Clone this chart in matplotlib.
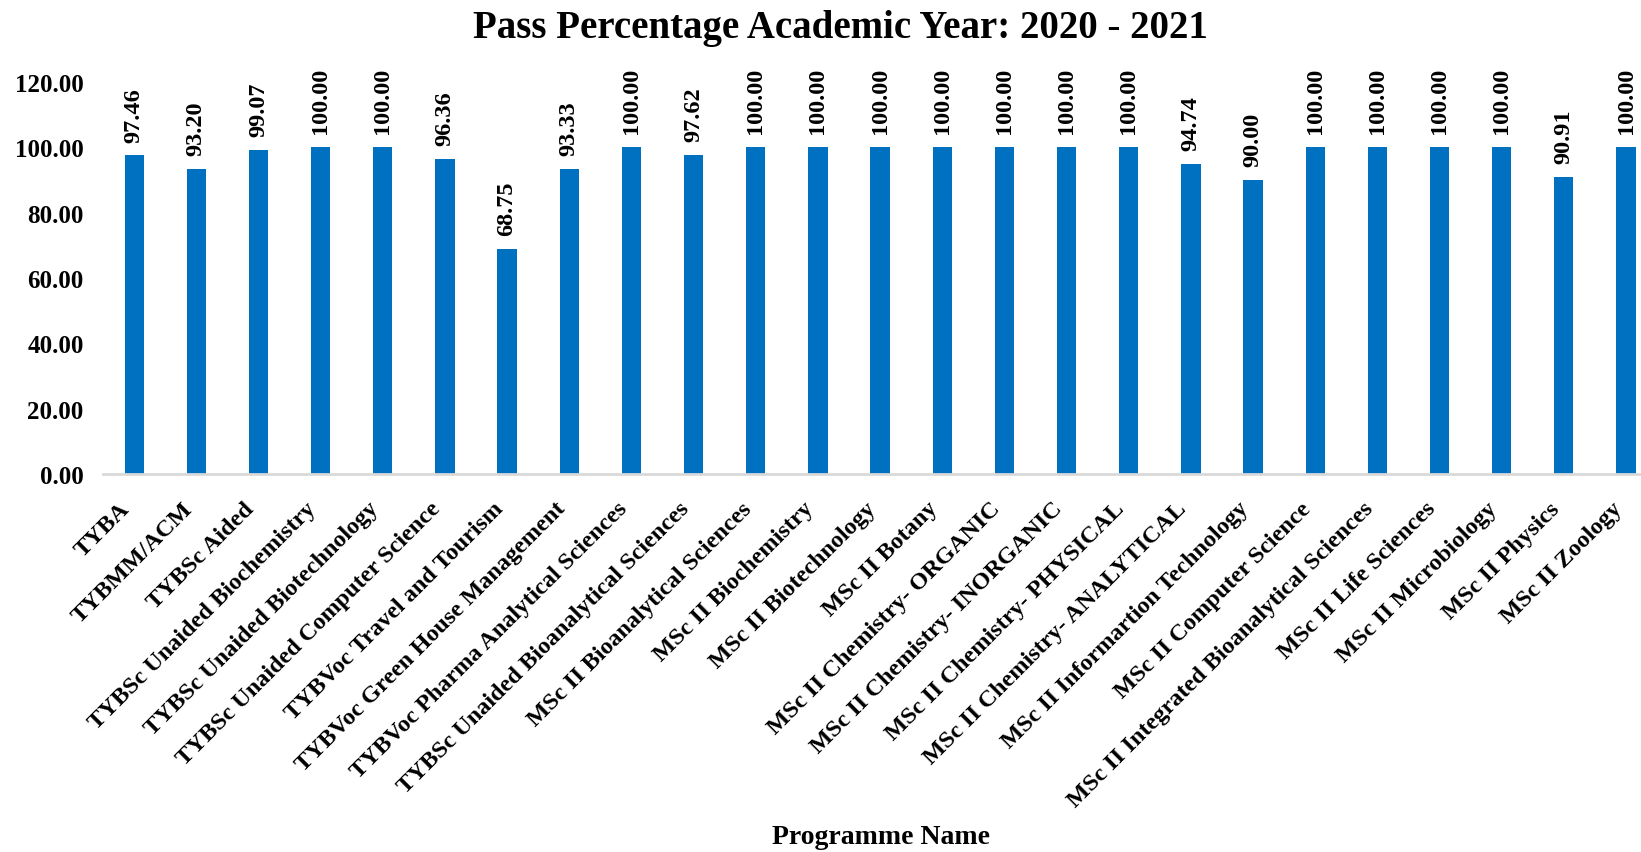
import matplotlib
matplotlib.use("Agg")
import matplotlib.pyplot as plt
from matplotlib.ticker import FormatStrFormatter

# data
programmes = [
    "TYBA", "TYBMM/ACM", "TYBSc Aided", "TYBSc Unaided Biochemistry",
    "TYBSc Unaided Biotechnology", "TYBSc Unaided Computer Science",
    "TYBVoc Travel and Tourism", "TYBVoc Green House Management",
    "TYBVoc Pharma Analytical Sciences", "TYBSc Unaided Bioanalytical Sciences",
    "MSc II Bioanalytical Sciences", "MSc II Biochemistry", "MSc II Biotechnology",
    "MSc II Botany", "MSc II Chemistry- ORGANIC", "MSc II Chemistry- INORGANIC",
    "MSc II Chemistry- PHYSICAL", "MSc II Chemistry- ANALYTICAL",
    "MSc II Informartion Technology", "MSc II Computer Science",
    "MSc II Integrated Bioanalytical Sciences", "MSc II Life Sciences",
    "MSc II Microbiology", "MSc II Physics", "MSc II Zoology",
]
pass_pct = [
    97.46, 93.20, 99.07, 100.00, 100.00, 96.36, 68.75, 93.33, 100.00, 97.62,
    100.00, 100.00, 100.00, 100.00, 100.00, 100.00, 100.00, 94.74, 90.00, 100.00,
    100.00, 100.00, 100.00, 90.91, 100.00,
]
y_ticks = [0, 20, 40, 60, 80, 100, 120]

plt.rcParams['font.family'] = ['Liberation Serif', 'DejaVu Serif']

fig = plt.figure(figsize=(16.41, 8.53), dpi=100)
ax = fig.add_axes([0.0628, 0.443, 0.947, 0.46])

x = range(len(programmes))
bars = ax.bar(x, pass_pct, width=0.31, color='#0070C0')

ax.bar_label(bars, labels=[f'{v:.2f}' for v in pass_pct], rotation=90,
             padding=10, fontsize=17.5, fontweight='bold')

ax.set_xlim(-0.5, len(programmes) - 0.5)
ax.set_ylim(0, 120)
ax.set_yticks(y_ticks)
ax.yaxis.set_major_formatter(FormatStrFormatter('%.2f'))

ax.set_xticks(list(x))
ax.set_xticklabels(programmes, rotation=45, ha='right', fontsize=17.5,
                   fontweight='bold')
for lab in ax.get_yticklabels():
    lab.set_fontsize(18)
    lab.set_fontweight('bold')

ax.tick_params(axis='x', length=0, pad=17)
ax.tick_params(axis='y', length=0, pad=14)

# only the light grey category axis line
for side in ['left', 'right', 'top']:
    ax.spines[side].set_visible(False)
ax.spines['bottom'].set_color('#D9D9D9')
ax.spines['bottom'].set_linewidth(2)

ax.set_xlabel('Programme Name', fontsize=20, fontweight='bold')
ax.xaxis.set_label_coords(0.5006, -0.923)
ax.xaxis.label.set_va('center')

fig.text(0.512, 0.967, 'Pass Percentage Academic Year: 2020 - 2021',
         ha='center', va='center', fontsize=28, fontweight='bold')

fig.savefig('out.png', dpi=100)
plt.close()
